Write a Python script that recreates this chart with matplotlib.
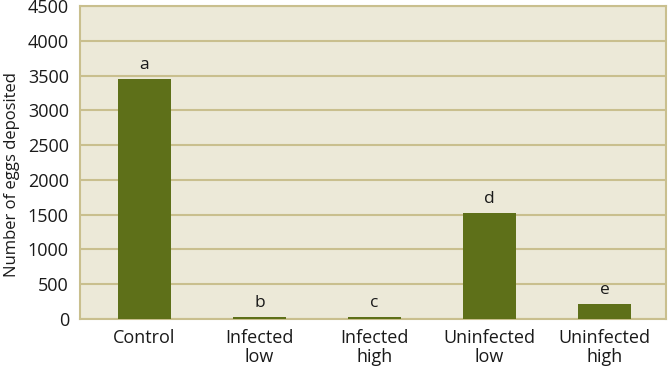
import numpy as np
import matplotlib.pyplot as plt

categories = ['Control', 'Infected\nlow', 'Infected\nhigh', 'Uninfected\nlow', 'Uninfected\nhigh']
eggs = [3450, 30, 30, 1520, 215]
letters = ['a', 'b', 'c', 'd', 'e']
yticks = [0, 500, 1000, 1500, 2000, 2500, 3000, 3500, 4000, 4500]

plt.rcParams['font.family'] = ['Open Sans', 'DejaVu Sans']

fig = plt.figure(figsize=(6.68, 3.72), dpi=100)
ax = fig.add_axes([80 / 668, 1 - 319 / 372, 586 / 668, 313 / 372])
ax.set_facecolor('#ECE9D8')
grid_col = '#C9BF8E'
txt_col = '#1a1a1a'

x = np.arange(len(categories))
ax.bar(x, eggs, width=0.46, color='#5E7019', zorder=3)
for xi, v, l in zip(x, eggs, letters):
    ax.text(xi, v + 90, l, ha='center', va='bottom', fontsize=12.5, color=txt_col)

ax.set_ylim(0, 4500)
ax.set_xlim(-0.561, 4.534)
ax.set_yticks(yticks)
ax.set_yticklabels([str(t) for t in yticks], fontsize=13)
ax.set_xticks(x)
ax.set_xticklabels(categories, fontsize=13, linespacing=1.1)
ax.yaxis.grid(True, color=grid_col, linewidth=1.5, zorder=0)
ax.tick_params(length=0, pad=8, colors=txt_col)
ax.tick_params(axis='x', pad=7)
for s in ax.spines.values():
    s.set_color(grid_col)
    s.set_linewidth(1.5)
ax.set_ylabel('Number of eggs deposited', fontsize=12, color=txt_col)
ax.yaxis.set_label_coords(-0.103, 0.46)

fig.savefig('out.png', dpi=100)
